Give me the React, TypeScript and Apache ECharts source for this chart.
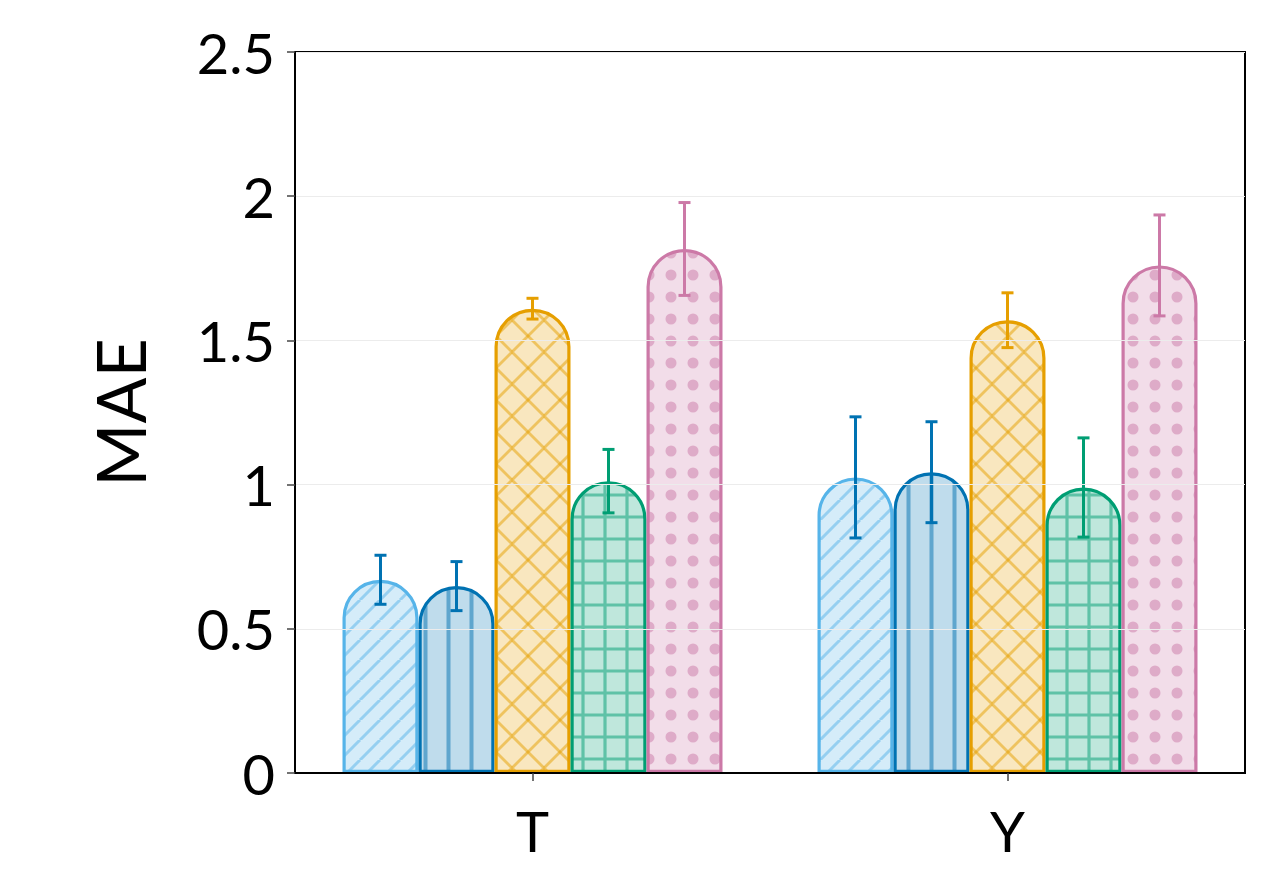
import React, { useEffect, useRef } from "react";
import * as echarts from "echarts";

const categories = ["T", "Y"];
const seriesNames = ["A", "B", "C", "D", "E"];
const baseColors = ["#56B4E9", "#0072B2", "#E69F00", "#009E73", "#CC79A7"];
const errColors = ["#0072B2", "#0072B2", "#E69F00", "#009E73", "#CC79A7"];
const values = [
  [0.67, 1.025],
  [0.648, 1.043],
  [1.61, 1.57],
  [1.012, 0.99],
  [1.817, 1.76],
];
const errors = [
  [0.085, 0.21],
  [0.085, 0.175],
  [0.036, 0.095],
  [0.11, 0.172],
  [0.161, 0.175],
];
const yTicks = { min: 0, max: 2.5, interval: 0.5 };

function hexToRgb(h: string) {
  const n = parseInt(h.slice(1), 16);
  return [(n >> 16) & 255, (n >> 8) & 255, n & 255];
}
function rgba(h: string, a: number) {
  const [r, g, b] = hexToRgb(h);
  return `rgba(${r},${g},${b},${a})`;
}

function makeTile(size: number, base: string, kind: string) {
  const c = document.createElement("canvas");
  c.width = size;
  c.height = size;
  const ctx = c.getContext("2d")!;
  ctx.fillStyle = rgba(base, 0.25);
  ctx.fillRect(0, 0, size, size);
  ctx.strokeStyle = rgba(base, 0.5);
  ctx.fillStyle = rgba(base, 0.5);
  ctx.lineCap = "butt";
  const s = size;
  if (kind === "diag") {
    ctx.lineWidth = 3;
    for (const k of [-s, 0, s]) {
      ctx.beginPath();
      ctx.moveTo(k, s);
      ctx.lineTo(k + s, 0);
      ctx.stroke();
    }
  } else if (kind === "vert") {
    ctx.lineWidth = 4;
    ctx.beginPath();
    ctx.moveTo(s / 2, 0);
    ctx.lineTo(s / 2, s);
    ctx.stroke();
  } else if (kind === "cross") {
    ctx.lineWidth = 2.8;
    for (const k of [-s, 0, s]) {
      ctx.beginPath();
      ctx.moveTo(k, s);
      ctx.lineTo(k + s, 0);
      ctx.stroke();
      ctx.beginPath();
      ctx.moveTo(k, 0);
      ctx.lineTo(k + s, s);
      ctx.stroke();
    }
  } else if (kind === "grid") {
    ctx.lineWidth = 3.2;
    ctx.beginPath();
    ctx.moveTo(s / 2, 0);
    ctx.lineTo(s / 2, s);
    ctx.moveTo(0, s / 2);
    ctx.lineTo(s, s / 2);
    ctx.stroke();
  } else if (kind === "dots") {
    ctx.beginPath();
    ctx.arc(s / 2, s / 2, 5.5, 0, Math.PI * 2);
    ctx.fill();
  }
  return {
    image: c.toDataURL(),
    repeat: "repeat",
    imageWidth: size,
    imageHeight: size,
  } as any;
}

const patternKinds = ["diag", "vert", "cross", "grid", "dots"];
const patternSizes = [20, 23, 32, 22, 22];

export default function App() {
  const ref = useRef<HTMLDivElement>(null);
  useEffect(() => {
    if (!ref.current) return;
    const chart = echarts.init(ref.current, null, { renderer: "svg" });
    const font = "Lato";
    const n = seriesNames.length;
    const barSeries = seriesNames.map((name, i) => ({
      type: "bar",
      name,
      data: values[i],
      barGap: "0%",
      barCategoryGap: "20%",
      z: 2,
      itemStyle: {
        color: makeTile(patternSizes[i], baseColors[i], patternKinds[i]),
        borderColor: baseColors[i],
        borderWidth: 3.2,
        borderRadius: [200, 200, 0, 0],
      },
    }));
    const errSeries = seriesNames.map((name, i) => ({
      type: "custom",
      name: name + "_err",
      z: 5,
      data: values[i].map((v, j) => [j, v, errors[i][j]]),
      encode: { x: 0, y: 1 },
      renderItem: (params: any, api: any) => {
        const cat = api.value(0);
        const v = api.value(1);
        const e = api.value(2);
        const c = api.coord([cat, v]);
        const band = api.size([1, 0])[0];
        const bw = (band * 0.8) / n;
        const x = c[0] + (i - (n - 1) / 2) * bw;
        const top = api.coord([cat, v + e])[1];
        const bot = api.coord([cat, v - e])[1];
        const cap = 6;
        const st = { stroke: errColors[i], lineWidth: 3 };
        return {
          type: "group",
          children: [
            { type: "line", shape: { x1: x, y1: top, x2: x, y2: bot }, style: st },
            { type: "line", shape: { x1: x - cap, y1: top, x2: x + cap, y2: top }, style: st },
            { type: "line", shape: { x1: x - cap, y1: bot, x2: x + cap, y2: bot }, style: st },
          ],
        };
      },
    }));
    chart.setOption({
      animation: false,
      backgroundColor: "#ffffff",
      grid: {
        left: 295,
        right: 17,
        top: 52,
        bottom: 117,
        show: true,
        borderColor: "#000",
        borderWidth: 2,
        backgroundColor: "transparent",
      },
      xAxis: {
        type: "category",
        data: categories,
        axisLine: { show: true, lineStyle: { color: "#000", width: 2 } },
        axisTick: { show: true, alignWithLabel: true, length: 8, lineStyle: { color: "#444", width: 1.5 } },
        axisLabel: { color: "#000", fontFamily: font, fontSize: 56, margin: 29 },
        splitLine: { show: false },
        z: 10,
      },
      yAxis: {
        type: "value",
        min: yTicks.min,
        max: yTicks.max,
        interval: yTicks.interval,
        name: "MAE",
        nameLocation: "middle",
        nameGap: 142,
        nameTextStyle: { color: "#000", fontFamily: font, fontSize: 68 },
        axisLine: { show: true, lineStyle: { color: "#000", width: 2 } },
        axisTick: { show: true, length: 8, lineStyle: { color: "#444", width: 1.5 } },
        axisLabel: { color: "#000", fontFamily: font, fontSize: 56, margin: 20 },
        splitLine: { show: true, lineStyle: { color: "#ececec", width: 1 } },
        z: 10,
      },
      series: [...barSeries, ...errSeries],
    });
    return () => chart.dispose();
  }, []);
  return (
    <div
      ref={ref}
      style={{ position: "fixed", left: 0, top: 0, width: 1262, height: 890, background: "#fff" }}
    />
  );
}
